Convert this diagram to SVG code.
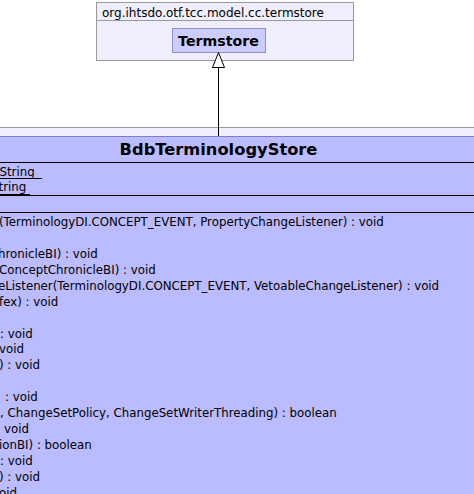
<svg xmlns="http://www.w3.org/2000/svg" width="474" height="494" viewBox="0 0 474 494">
<style>
text{font-family:"DejaVu Sans","Liberation Sans",sans-serif;fill:#000}
.pkg{fill:#eeeefc;stroke:#999999;stroke-width:1}
.lbl{font-size:12px}
.node{fill:#ccccff;stroke:#8f8fbf;stroke-width:1}
.ttl{font-weight:bold;text-anchor:middle}
.m{font-size:11.8px}
.sep{stroke:#000;stroke-width:1}
</style>
<g id="pkg-termstore">
<rect class="pkg" x="96.5" y="2.5" width="257" height="58"/>
<line x1="96.5" y1="20.5" x2="353.5" y2="20.5" stroke="#999999"/>
<text class="lbl" x="102" y="16.5">org.ihtsdo.otf.tcc.model.cc.termstore</text>
</g>
<g id="node-termstore">
<rect class="node" x="172.5" y="28.5" width="93" height="24"/>
<text class="ttl" x="218.5" y="45.5" font-size="14.2">Termstore</text>
</g>
<g id="pkg-lower">
<rect x="-2" y="127.5" width="480" height="10" fill="#eeeefc" stroke="#999999"/>
</g>
<g id="node-bdb">
<rect x="-2" y="136" width="480" height="362" fill="#bbbbff"/>
<line x1="-2" y1="136.5" x2="476" y2="136.5" stroke="#8080c0"/>
<text class="ttl" x="218.5" y="154.5" font-size="16.3">BdbTerminologyStore</text>
<line class="sep" x1="-2" y1="162.5" x2="476" y2="162.5"/>
<text class="m" x="-0.5" y="176">String</text>
<line x1="0" y1="178.5" x2="42" y2="178.5" stroke="#000"/>
<text class="m" x="-1.5" y="191">tring</text>
<line x1="0" y1="194.5" x2="30" y2="194.5" stroke="#000"/>
<line class="sep" x1="-2" y1="195.5" x2="476" y2="195.5"/>
<line class="sep" x1="-2" y1="212.5" x2="476" y2="212.5"/>
<text class="m" x="-1" y="226">(TerminologyDI.CONCEPT_EVENT, PropertyChangeListener) : void</text>
<text class="m" x="-2" y="257.9">hronicleBI) : void</text>
<text class="m" x="-1" y="273.8">ConceptChronicleBI) : void</text>
<text class="m" x="-2" y="289.7">eListener(TerminologyDI.CONCEPT_EVENT, VetoableChangeListener) : void</text>
<text class="m" x="-1" y="305.7">fex) : void</text>
<text class="m" x="0" y="337.5">: void</text>
<text class="m" x="-1" y="353.4">void</text>
<text class="m" x="-1" y="369.4">) : void</text>
<text class="m" x="5" y="401.2">: void</text>
<text class="m" x="0" y="417.2">, ChangeSetPolicy, ChangeSetWriterThreading) : boolean</text>
<text class="m" x="4" y="433.1">void</text>
<text class="m" x="-1" y="449">ionBI) : boolean</text>
<text class="m" x="0" y="465">: void</text>
<text class="m" x="-1" y="480.9">) : void</text>
<text class="m" x="-1" y="496.8">oid</text>
</g>
<g id="connectors">
<line x1="218.5" y1="67" x2="218.5" y2="136" stroke="#000"/>
<polygon points="218.5,52.5 212.5,67.5 224.5,67.5" fill="#fff" stroke="#000"/>
</g>
</svg>
